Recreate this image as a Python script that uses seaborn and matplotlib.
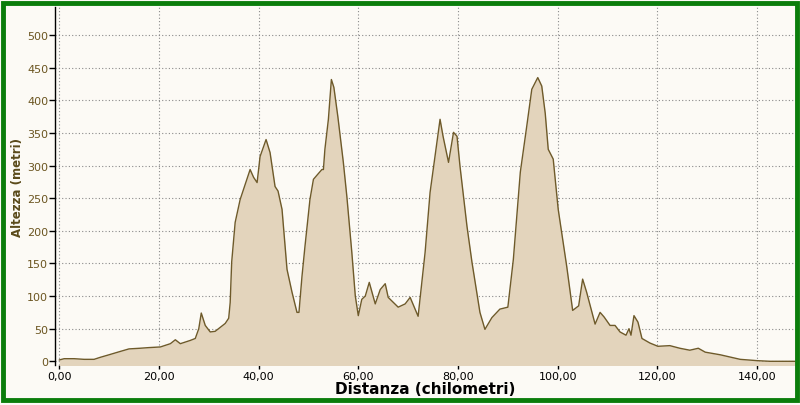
import numpy as np
import pandas as pd
import matplotlib
matplotlib.use("Agg")
import matplotlib.pyplot as plt
import seaborn as sns
from matplotlib.patches import Rectangle

# profilo altimetrico (km, metri)
distanza = [0.0, 1.0, 3.0, 5.0, 7.0, 8.2, 10.0, 12.2, 14.0, 16.2, 18.0, 20.3, 22.3, 23.3, 24.3,
            26.3, 27.3, 28.0, 28.5, 29.3, 30.3, 31.3, 33.3, 34.0, 34.3, 34.6, 35.3, 36.3, 37.3,
            38.3, 39.0, 39.7, 40.3, 41.5, 42.3, 43.3, 43.9, 44.7, 45.7, 46.7, 47.7, 48.1, 48.7,
            49.3, 50.3, 51.0, 51.9, 52.7, 53.0, 53.3, 54.0, 54.6, 55.1, 55.9, 57.0, 57.7, 58.7,
            59.4, 60.0, 60.7, 61.4, 62.2, 63.4, 64.4, 65.4, 66.0, 68.0, 69.4, 70.4, 72.0, 73.4,
            74.4, 75.4, 76.4, 77.0, 78.1, 79.1, 79.8, 80.4, 81.8, 82.8, 84.4, 85.4, 86.8, 88.4,
            90.0, 91.1, 92.5, 93.8, 94.8, 96.0, 96.8, 97.5, 98.1, 99.1, 100.1, 101.8, 103.0,
            104.2, 105.0, 105.8, 107.5, 108.5, 109.3, 110.5, 111.5, 112.5, 113.7, 114.3, 114.7,
            115.3, 116.1, 116.9, 118.5, 120.1, 122.5, 124.5, 126.5, 128.2, 129.6, 132.6, 136.6,
            140.0, 142.6, 147.6]
altezza = [2, 4, 4, 3, 3, 6, 10, 15, 19, 20, 21, 22, 27, 33, 27,
           32, 35, 50, 74, 55, 45, 46, 58, 66, 90, 152, 213, 248, 271,
           294, 282, 274, 314, 340, 320, 268, 261, 233, 141, 106, 75, 75, 130,
           176, 248, 279, 287, 294, 294, 325, 371, 432, 420, 375, 305, 253, 167,
           100, 70, 95, 100, 121, 88, 110, 119, 98, 83, 88, 98, 69, 167,
           259, 315, 371, 345, 305, 351, 345, 299, 207, 152, 75, 49, 67, 80,
           83, 156, 290, 361, 417, 435, 422, 380, 325, 310, 233, 146, 78,
           85, 126, 106, 57, 75, 68, 55, 55, 45, 40, 50, 40,
           70, 60, 35, 28, 23, 24, 20, 17, 20, 14, 10, 3,
           1, 0, 0]

x_ticks = [0, 20, 40, 60, 80, 100, 120, 140]
x_labels = ["0,00", "20,00", "40,00", "60,00", "80,00", "100,00", "120,00", "140,00"]
y_ticks = [0, 50, 100, 150, 200, 250, 300, 350, 400, 450, 500]

df = pd.DataFrame({"km": distanza, "m": altezza})

sns.set_theme(style="white")
plt.rcParams["font.family"] = ["DejaVu Sans"]

fondo = "#FCFAF5"
fig = plt.figure(figsize=(8, 4.06), dpi=100, facecolor=fondo)
ax = fig.add_axes([0.069, 0.098, 0.926, 0.882])
ax.set_facecolor(fondo)

ax.fill_between(df["km"], df["m"], -10, color="#E3D4BC", linewidth=0)
sns.lineplot(data=df, x="km", y="m", ax=ax, color="#6E5A2A", linewidth=1.0)

ax.set_xlim(-0.8, 147.8)
ax.set_ylim(-6, 543)
ax.set_xticks(x_ticks)
ax.set_xticklabels(x_labels)
ax.set_yticks(y_ticks)
ax.grid(True, color="#8A8A8A", linestyle=(0, (1, 2)), linewidth=0.8)
ax.set_axisbelow(True)

for s in ["top", "right", "bottom"]:
    ax.spines[s].set_visible(False)
ax.spines["left"].set_color("black")
ax.spines["left"].set_linewidth(1.0)

ax.tick_params(axis="y", direction="out", length=4, width=1, color="black",
               labelsize=8, labelcolor="#6B5520", pad=1, left=True)
ax.tick_params(axis="x", direction="out", length=3, width=1, color="black",
               labelsize=8, labelcolor="black", pad=1, bottom=True)

ax.set_xlabel("Distanza (chilometri)", fontsize=11, fontweight="bold", color="black", labelpad=0)
ax.set_ylabel("Altezza (metri)", fontsize=8.5, fontweight="bold", color="#5A4A1A", labelpad=2)

# cornice verde
fig.patches.append(Rectangle((0.004, 0.012), 0.992, 0.978, transform=fig.transFigure,
                             fill=False, edgecolor="#0B7D0B", linewidth=3.5, zorder=10))

fig.savefig("out.png", dpi=100, facecolor=fondo)
